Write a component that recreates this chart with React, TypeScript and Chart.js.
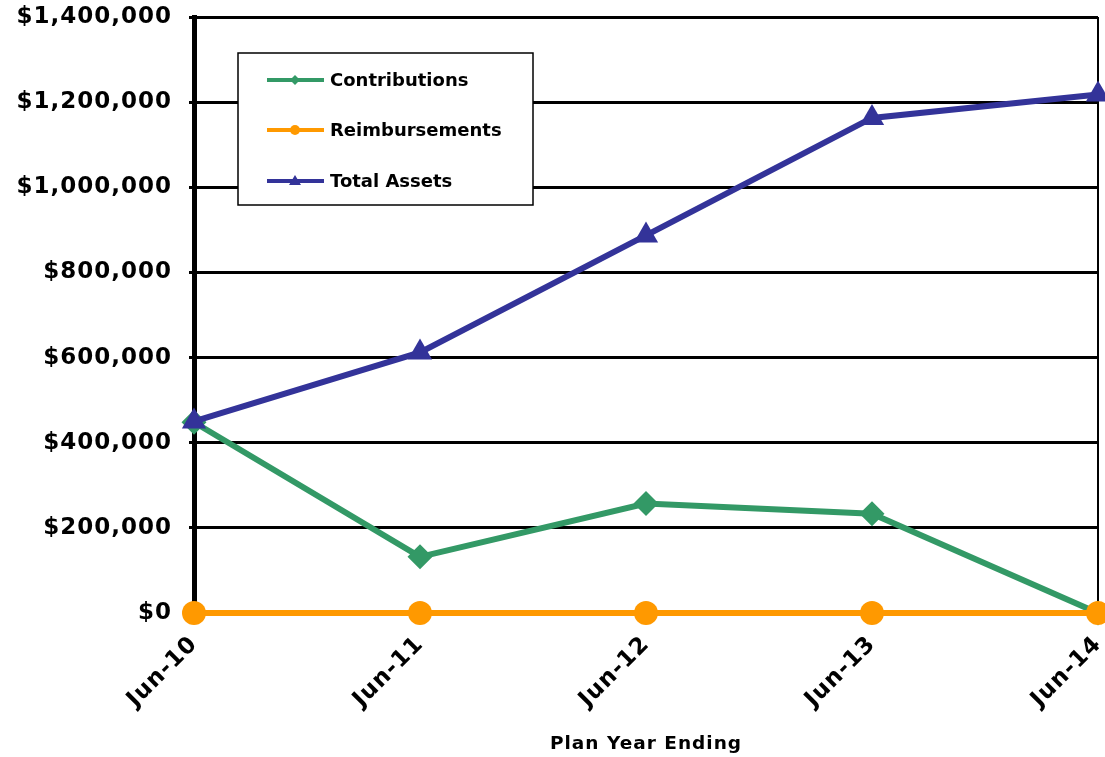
import React, { useEffect, useRef } from "react";
import { Chart, registerables } from "chart.js";

Chart.register(...registerables);

const categories = ["Jun-10", "Jun-11", "Jun-12", "Jun-13", "Jun-14"];
const contributions = [448000, 132000, 257000, 233000, 0];
const reimbursements = [0, 0, 0, 0, 0];
const totalAssets = [450000, 612000, 887000, 1163000, 1218000];
const yTicks = [0, 200000, 400000, 600000, 800000, 1000000, 1200000, 1400000];

const GREEN = "#339966";
const ORANGE = "#FF9900";
const BLUE = "#333399";
const FONT = "'DejaVu Sans', Verdana, sans-serif";

const legendItems = [
  { label: "Contributions", color: GREEN, shape: "diamond" },
  { label: "Reimbursements", color: ORANGE, shape: "circle" },
  { label: "Total Assets", color: BLUE, shape: "triangle" },
];

const spacingPlugin = {
  id: "spacing",
  beforeUpdate(chart: any) {
    chart.ctx.letterSpacing = "1px";
  },
  beforeLayout(chart: any) {
    chart.ctx.letterSpacing = "1px";
  },
  beforeDraw(chart: any) {
    chart.ctx.letterSpacing = "1px";
  },
};

const legendPlugin = {
  id: "boxLegend",
  afterDraw(chart: any) {
    const ctx = chart.ctx;
    const x0 = 238, y0 = 53, w = 295, h = 152;
    ctx.save();
    ctx.letterSpacing = "0px";
    ctx.fillStyle = "#fff";
    ctx.fillRect(x0, y0, w, h);
    ctx.strokeStyle = "#000";
    ctx.lineWidth = 1.5;
    ctx.strokeRect(x0, y0, w, h);
    const rows = [80, 130, 181];
    legendItems.forEach((it, i) => {
      const y = rows[i];
      ctx.strokeStyle = it.color;
      ctx.lineWidth = 4;
      ctx.beginPath();
      ctx.moveTo(267, y);
      ctx.lineTo(324, y);
      ctx.stroke();
      ctx.fillStyle = it.color;
      const cx = 295;
      ctx.beginPath();
      if (it.shape === "diamond") {
        ctx.moveTo(cx, y - 5);
        ctx.lineTo(cx + 5, y);
        ctx.lineTo(cx, y + 5);
        ctx.lineTo(cx - 5, y);
        ctx.closePath();
      } else if (it.shape === "circle") {
        ctx.arc(cx, y, 5, 0, Math.PI * 2);
      } else {
        ctx.moveTo(cx, y - 6);
        ctx.lineTo(cx + 6, y + 4);
        ctx.lineTo(cx - 6, y + 4);
        ctx.closePath();
      }
      ctx.fill();
      ctx.fillStyle = "#000";
      ctx.font = `bold 18px ${FONT}`;
      ctx.textBaseline = "middle";
      ctx.textAlign = "left";
      ctx.fillText(it.label, 330, y + 1);
    });
    ctx.restore();
  },
};

export default function App() {
  const ref = useRef<HTMLCanvasElement>(null);
  useEffect(() => {
    if (!ref.current) return;
    const chart = new Chart(ref.current, {
      type: "line",
      data: {
        labels: categories,
        datasets: [
          {
            label: "Contributions",
            data: contributions,
            borderColor: GREEN,
            backgroundColor: GREEN,
            borderWidth: 6,
            pointStyle: "rectRot",
            pointRadius: 12.5,
            pointBorderWidth: 0,
            tension: 0,
            clip: false as any,
            order: 2,
          },
          {
            label: "Reimbursements",
            data: reimbursements,
            borderColor: ORANGE,
            backgroundColor: ORANGE,
            borderWidth: 6,
            pointStyle: "circle",
            pointRadius: 12,
            pointBorderWidth: 0,
            tension: 0,
            clip: false as any,
            order: 1,
          },
          {
            label: "Total Assets",
            data: totalAssets,
            borderColor: BLUE,
            backgroundColor: BLUE,
            borderWidth: 6,
            pointStyle: "triangle",
            pointRadius: 14,
            pointBorderWidth: 0,
            tension: 0,
            clip: false as any,
            order: 0,
          },
        ],
      },
      options: {
        animation: false,
        responsive: false,
        layout: { autoPadding: false, padding: { top: 17, right: 7, left: 0, bottom: 0 } },
        plugins: {
          legend: { display: false },
          tooltip: { enabled: false },
        },
        scales: {
          x: {
            offset: false,
            border: { display: false },
            grid: {
              drawTicks: false,
              color: (c: any) => (c.index === categories.length - 1 ? "#000" : "rgba(0,0,0,0)"),
              lineWidth: (c: any) => (c.index === categories.length - 1 ? 2 : 0),
            },
            ticks: {
              color: "#000",
              font: { family: FONT, size: 23, weight: "bold" },
              minRotation: 45,
              maxRotation: 45,
              padding: 18,
            },
            title: {
              display: true,
              text: "Plan Year Ending",
              color: "#000",
              font: { family: FONT, size: 18.5, weight: "bold" },
              padding: { top: 0, bottom: 2 },
            },
            afterFit: (s: any) => {
              s.height = 144;
              s.paddingLeft = 0;
              s.paddingRight = 0;
            },
          },
          y: {
            min: 0,
            max: 1400000,
            afterBuildTicks: (s: any) => {
              s.ticks = yTicks.map((v) => ({ value: v }));
            },
            border: { display: true, color: "#000", width: 5 },
            grid: {
              color: "#000",
              lineWidth: 3,
              tickLength: 5,
              tickColor: "#000",
            },
            ticks: {
              color: "#000",
              font: { family: FONT, size: 23, weight: "bold" },
              padding: 17,
              callback: (v: any) => "$" + Number(v).toLocaleString("en-US"),
            },
            afterFit: (s: any) => {
              s.width = 194;
              s.paddingTop = 0;
              s.paddingBottom = 0;
            },
          },
        },
      },
      plugins: [spacingPlugin, legendPlugin],
    });
    return () => chart.destroy();
  }, []);
  return (
    <div style={{ position: "fixed", left: 0, top: 0, width: 1105, height: 757, background: "#fff" }}>
      <canvas ref={ref} width={1105} height={757} />
    </div>
  );
}
